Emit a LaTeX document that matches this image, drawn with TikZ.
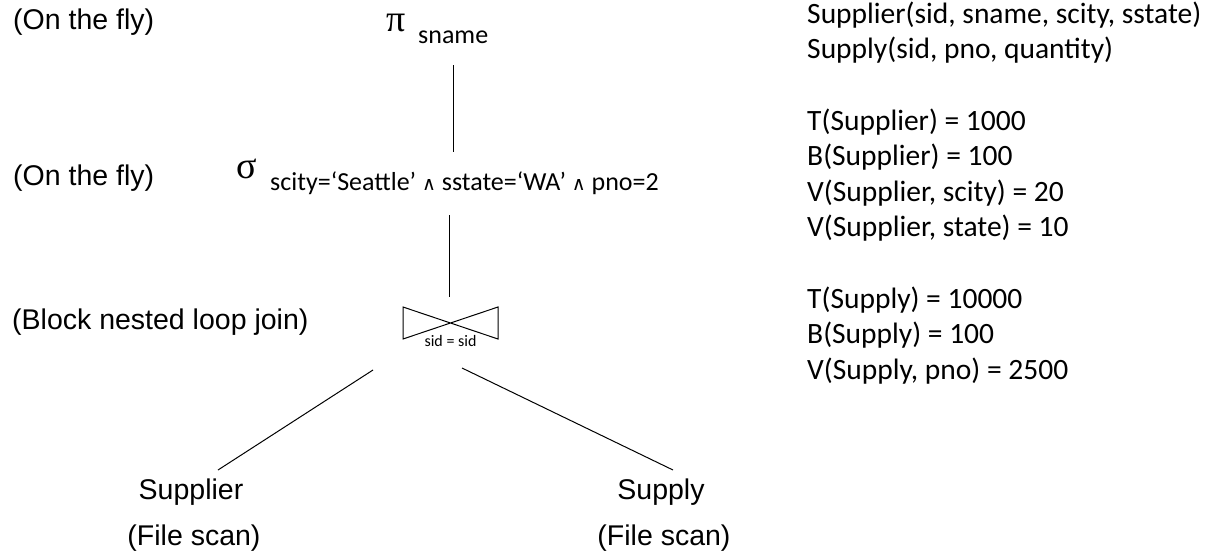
\documentclass[tikz,border=0pt]{standalone}
\usepackage{fontspec}
\setmainfont{Carlito}
\newfontfamily\arialf{Liberation Sans}
\newfontfamily\greekf{Liberation Serif}
\newfontfamily\symf{DejaVu Sans}
\newcommand{\wedgesym}{{\symf\fontsize{19}{20}\selectfont ∧}}
\begin{document}
\begin{tikzpicture}[x=1pt,y=-1pt,
  lbl/.style={font=\arialf\fontsize{28.5}{34}\selectfont, inner sep=0pt, anchor=base west},
  ctr/.style={font=\arialf\fontsize{28.5}{34}\selectfont, inner sep=0pt, anchor=base},
  rt/.style={font=\fontsize{29.5}{35.6}\selectfont, inner sep=0pt, anchor=base west},
  gk/.style={font=\greekf\fontsize{38}{40}\selectfont, inner sep=0pt, anchor=base west},
  subs/.style={font=\fontsize{26}{30}\selectfont, inner sep=0pt, anchor=base west},
  tiny/.style={font=\fontsize{16}{18}\selectfont, inner sep=0pt, anchor=base},
  edge/.style={line width=1pt, black}]
\useasboundingbox (0,0) rectangle (1212,554);

% left annotations
\node[lbl] (fly1) at (13,29.5) {(On the fly)};
\node[lbl] (fly2) at (13,185.5) {(On the fly)};
\node[lbl] (bnl) at (12,329.5) {(Block nested loop join)};

% projection
\node[gk] (pi) at (386,31) {π};
\node[subs] (pisub) at (418,43) {sname};

% selection
\node[gk] (sigma) at (236,178) {σ};
\node[subs] (sigsub) at (270,190) {scity=‘Seattle’ \wedgesym{} sstate=‘WA’ \wedgesym{} pno=2};

% join
\coordinate (jc) at (450.5,323);
\draw[edge] (403,307) -- (498,339) -- (498,307) -- (403,339) -- cycle;
\node[tiny] (jlbl) at (450.5,346) {sid = sid};

% leaves
\node[ctr] (supplier) at (191,499) {Supplier};
\node[ctr] (fs1) at (194,545) {(File scan)};
\node[ctr] (supply) at (661,499) {Supply};
\node[ctr] (fs2) at (664,545) {(File scan)};

% connectors
\coordinate (a1) at (453,65);
\coordinate (a2) at (453,152);
\coordinate (b1) at (449,215);
\coordinate (b2) at (449,297);
\coordinate (c1) at (373,370);
\coordinate (c2) at (218,470);
\coordinate (d1) at (462,368);
\coordinate (d2) at (673,470);
\draw[edge] (a1) -- (a2);
\draw[edge] (b1) -- (b2);
\draw[edge] (c1) -- (c2);
\draw[edge] (d1) -- (d2);

% right column
\node[rt] (r1) at (807,23.2) {Supplier(sid, sname, scity, sstate)};
\node[rt] (r2) at (807,58.8) {Supply(sid, pno, quantity)};
\node[rt] (r3) at (807,130) {T(Supplier) = 1000};
\node[rt] (r4) at (807,165.6) {B(Supplier) = 100};
\node[rt] (r5) at (807,201.2) {V(Supplier, scity) = 20};
\node[rt] (r6) at (807,236.8) {V(Supplier, state) = 10};
\node[rt] (r7) at (807,308) {T(Supply) = 10000};
\node[rt] (r8) at (807,343.6) {B(Supply) = 100};
\node[rt] (r9) at (807,379.2) {V(Supply, pno) = 2500};
\end{tikzpicture}
\end{document}
